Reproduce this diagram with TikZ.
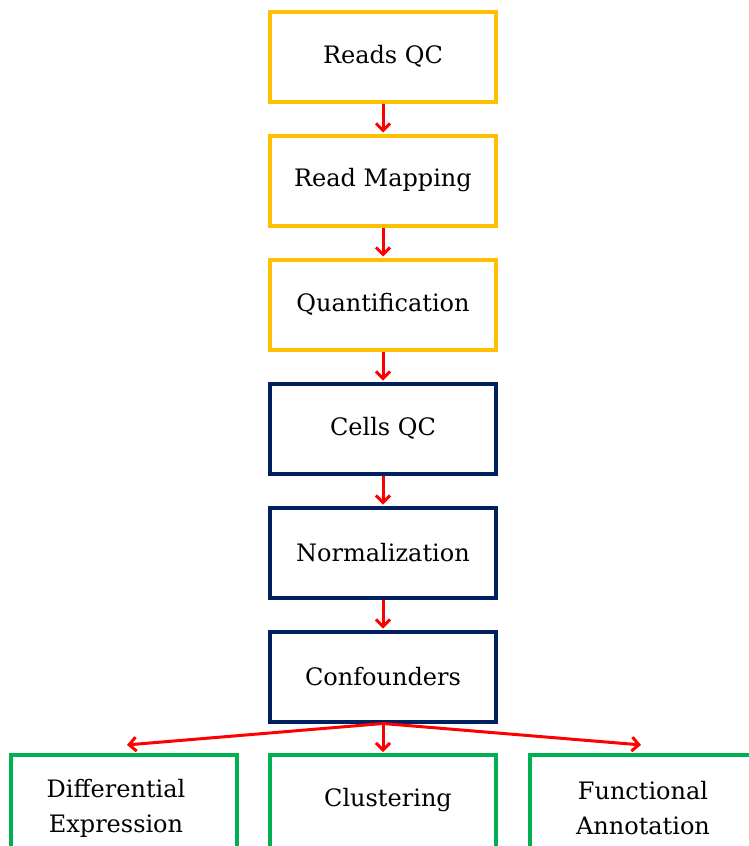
\documentclass[tikz,border=0pt]{standalone}
\usepackage{fontspec}
\setmainfont{DejaVu Serif}
\usetikzlibrary{arrows.meta}
\definecolor{gold}{HTML}{FFC000}
\definecolor{navy}{HTML}{002060}
\definecolor{grn}{HTML}{00B050}
\definecolor{arr}{HTML}{FF0000}
\begin{document}
\begin{tikzpicture}[x=1pt,y=-1pt,
  txt/.style={font=\fontsize{24}{35}\selectfont, text=black, align=center},
  box/.style={draw, line width=4pt, fill=white, minimum width=226pt, minimum height=90pt,
    inner sep=0pt, txt},
  yb/.style={box, draw=gold},
  nb/.style={box, draw=navy},
  gb/.style={box, draw=grn, minimum height=110pt},
  link/.style={draw=arr, line width=3pt, -{Straight Barb[length=7pt,width=14pt,line width=3pt]}, shorten >=1pt}
]
\useasboundingbox (0,0) rectangle (749,846);
\clip (0,0) rectangle (749,846);
\node[yb] (a) at (383,56.5) {Reads QC};
\node[yb] (b) at (383,180.5) {Read Mapping};
\node[yb] (c) at (383,304.5) {Quantification};
\node[nb] (d) at (383,428.5) {Cells QC};
\node[nb] (e) at (383,552.5) {Normalization};
\node[nb] (f) at (383,676.5) {Confounders};
\node[gb] (g) at (124,810) {};
\node[txt] (gt) at (116,808) {Differential\\Expression};
\node[gb] (h) at (383,810) {};
\node[txt] (ht) at (388,800) {Clustering};
\node[gb] (i) at (643,810) {};
\node[txt] (it) at (643,808) {Functional\\Annotation};
\draw[link] (a.south) -- (b.north);
\draw[link] (b.south) -- (c.north);
\draw[link] (c.south) -- (d.north);
\draw[link] (d.south) -- (e.north);
\draw[link] (e.south) -- (f.north);
\coordinate (gl) at (126,745);
\coordinate (il) at (642,745);
\draw[link] (f.south) -- (gl);
\draw[link] (f.south) -- (h.north);
\draw[link] (f.south) -- (il);
\end{tikzpicture}
\end{document}
